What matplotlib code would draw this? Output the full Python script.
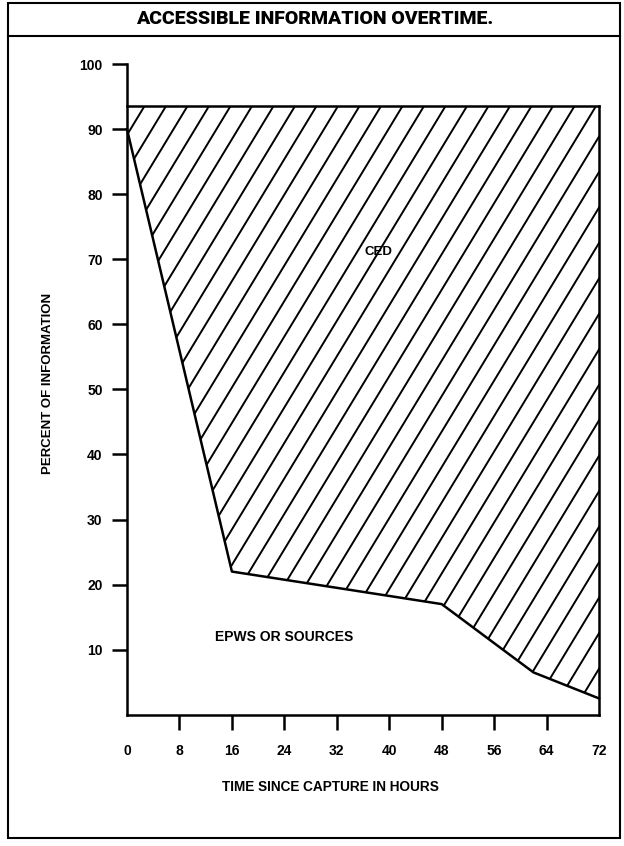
import matplotlib
matplotlib.use("Agg")
import matplotlib.pyplot as plt
from matplotlib.patches import Polygon, Rectangle
from matplotlib.lines import Line2D
import numpy as np

# Data
hours = [0, 16, 48, 62, 72]
epws_pct = [90, 22, 17, 6.5, 2.5]   # EPWs or sources
total_pct = 93.5                     # upper bound (CED above the curve)
x_ticks = [0, 8, 16, 24, 32, 40, 48, 56, 64, 72]
y_ticks = [10, 20, 30, 40, 50, 60, 70, 80, 90, 100]

plt.rcParams["font.family"] = ["Liberation Sans", "DejaVu Sans"]
plt.rcParams["font.weight"] = "bold"

fig = plt.figure(figsize=(6.24, 8.46), dpi=100)
ax = fig.add_axes([0.2035, 0.1552, 0.7565, 0.7691])
ax.set_xlim(0, 72)
ax.set_ylim(0, 100)

lw = 1.8

# Hatched CED region between the top line and the EPWS curve
verts = [(0, total_pct), (72, total_pct)] + list(zip(hours, epws_pct))[::-1]
region = Polygon(verts, closed=True, facecolor="none", edgecolor="none")
ax.add_patch(region)

# Custom hatch: steeper than matplotlib's 45 degree hatch
px_x = 0.7565 * 624 / 72
px_y = 0.7691 * 846 / 100
slope_px = 1.65
m = slope_px * px_x / px_y
step = 21.5 / px_x
for x0 in np.arange(-100 / m, 72, step):
    ln, = ax.plot([x0, x0 + 100 / m], [0, 100], color="black", lw=1.4)
    ln.set_clip_path(region)

# Outline lines
ax.plot(hours, epws_pct, color="black", lw=lw, clip_on=False)
ax.plot([0, 72], [total_pct, total_pct], color="black", lw=lw, clip_on=False)
ax.plot([72, 72], [0, total_pct], color="black", lw=lw, clip_on=False)

# Axes styling
for side in ["top", "right"]:
    ax.spines[side].set_visible(False)
for side in ["left", "bottom"]:
    ax.spines[side].set_linewidth(lw)

ax.set_yticks(y_ticks)
ax.set_yticklabels([str(v) for v in y_ticks])
ax.set_xticks(x_ticks)
ax.set_xticklabels([str(v) for v in x_ticks])
ax.tick_params(axis="y", direction="out", length=10.5, width=lw, pad=7, labelsize=10)
ax.tick_params(axis="x", direction="out", length=11, width=lw, pad=10, labelsize=10)
xt = ax.xaxis.get_major_ticks()
xt[0].tick1line.set_visible(False)
xt[-1].tick1line.set_visible(False)

# Region labels
ax.text(38.4, 71.1, "CED", ha="center", va="center", fontsize=9.5, fontweight="bold")
ax.text(23.9, 12.0, "EPWS OR SOURCES", ha="center", va="center", fontsize=10, fontweight="bold")

# Axis titles
fig.text(0.077, 0.547, "PERCENT OF INFORMATION", rotation=90, ha="center", va="center",
         fontsize=9.5, fontweight="bold")
fig.text(0.529, 0.0697, "TIME SINCE CAPTURE IN HOURS", ha="center", va="center",
         fontsize=9.8, fontweight="bold")

# Title bar and outer frame
fig.text(0.505, 0.9775, "ACCESSIBLE INFORMATION OVERTIME.", ha="center", va="center",
         fontsize=14, fontweight="black", family=["Roboto", "Liberation Sans"])
fig.add_artist(Rectangle((0.0128, 0.0095), 0.9808, 0.987, transform=fig.transFigure,
                         fill=False, edgecolor="black", lw=1.5))
fig.add_artist(Line2D([0.0128, 0.9936], [0.9574, 0.9574], transform=fig.transFigure,
                      color="black", lw=1.5))

fig.savefig("out.png", dpi=100)
